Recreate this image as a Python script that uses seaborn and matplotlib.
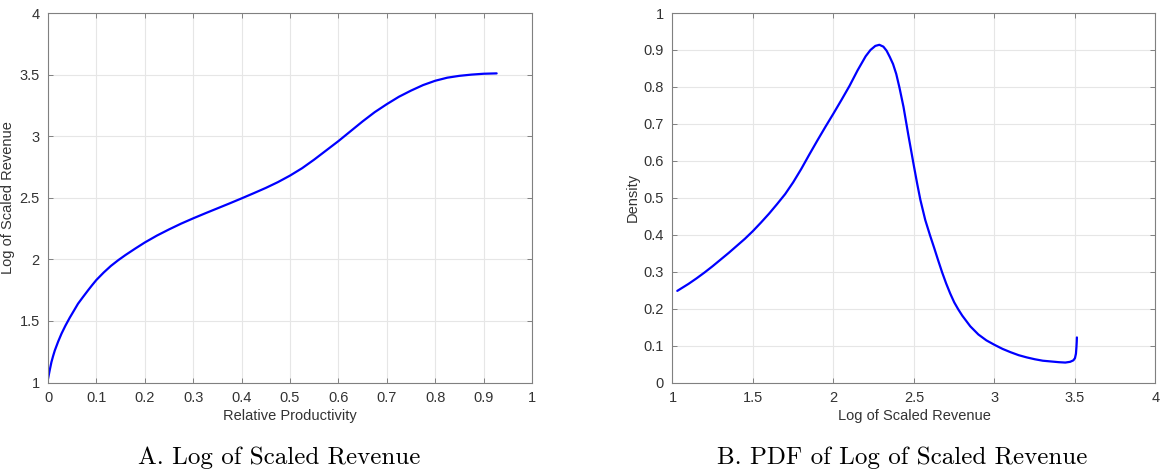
import matplotlib
matplotlib.use("Agg")
import matplotlib.pyplot as plt
import numpy as np
import pandas as pd
import seaborn as sns

# Panel A: log of scaled revenue vs relative productivity
prod_x = [0.0, 0.0035, 0.007, 0.0105, 0.014, 0.021, 0.028, 0.036, 0.045, 0.053,
          0.062, 0.072, 0.083, 0.091, 0.1, 0.115, 0.13, 0.145, 0.16, 0.18, 0.2,
          0.225, 0.25, 0.275, 0.3, 0.325, 0.35, 0.375, 0.4, 0.425, 0.45, 0.475,
          0.5, 0.525, 0.55, 0.575, 0.6, 0.625, 0.65, 0.675, 0.7, 0.725, 0.75,
          0.775, 0.8, 0.825, 0.85, 0.875, 0.9, 0.927]
rev_y = [1.03, 1.10, 1.165, 1.215, 1.26, 1.333, 1.398, 1.462, 1.527, 1.58,
         1.64, 1.693, 1.75, 1.79, 1.833, 1.893, 1.947, 1.993, 2.035, 2.087, 2.137,
         2.193, 2.243, 2.29, 2.333, 2.374, 2.414, 2.454, 2.495, 2.537, 2.58, 2.627,
         2.68, 2.74, 2.81, 2.885, 2.96, 3.04, 3.12, 3.195, 3.26, 3.32, 3.37,
         3.415, 3.45, 3.475, 3.49, 3.50, 3.507, 3.51]

# Panel B: PDF of log of scaled revenue
pdf_x = [1.03, 1.1, 1.15, 1.2, 1.25, 1.3, 1.35, 1.4, 1.45, 1.5, 1.55, 1.6, 1.65,
         1.7, 1.75, 1.8, 1.85, 1.9, 1.95, 2.0, 2.05, 2.1, 2.15, 2.2, 2.23, 2.26,
         2.285, 2.31, 2.33, 2.35, 2.37, 2.39, 2.41, 2.435, 2.465, 2.5, 2.52,
         2.54, 2.57, 2.6, 2.625, 2.65, 2.675, 2.7, 2.725, 2.75, 2.775, 2.8,
         2.85, 2.9, 2.95, 3.0, 3.05, 3.1, 3.15, 3.2, 3.25, 3.3, 3.35, 3.4, 3.44,
         3.47, 3.49, 3.5, 3.506, 3.509, 3.511, 3.512]
pdf_y = [0.248, 0.267, 0.282, 0.298, 0.315, 0.333, 0.351, 0.37, 0.389, 0.41,
         0.433, 0.457, 0.483, 0.51, 0.542, 0.578, 0.617, 0.655, 0.692, 0.728,
         0.765, 0.803, 0.845, 0.883, 0.90, 0.911, 0.914, 0.909, 0.898, 0.881,
         0.862, 0.835, 0.798, 0.746, 0.67, 0.585, 0.538, 0.494, 0.44, 0.398,
         0.365, 0.331, 0.298, 0.268, 0.241, 0.217, 0.198, 0.181, 0.152, 0.13,
         0.114, 0.102, 0.091, 0.082, 0.074, 0.068, 0.063, 0.059, 0.057, 0.055,
         0.054, 0.056, 0.06, 0.066, 0.078, 0.095, 0.11, 0.122]

xticks_a = [0, 0.1, 0.2, 0.3, 0.4, 0.5, 0.6, 0.7, 0.8, 0.9, 1]
xticklabels_a = ["0", "0.1", "0.2", "0.3", "0.4", "0.5", "0.6", "0.7", "0.8", "0.9", "1"]
yticks_a = [1, 1.5, 2, 2.5, 3, 3.5, 4]
yticklabels_a = ["1", "1.5", "2", "2.5", "3", "3.5", "4"]
xticks_b = [1, 1.5, 2, 2.5, 3, 3.5, 4]
xticklabels_b = ["1", "1.5", "2", "2.5", "3", "3.5", "4"]
yticks_b = [0, 0.1, 0.2, 0.3, 0.4, 0.5, 0.6, 0.7, 0.8, 0.9, 1]
yticklabels_b = ["0", "0.1", "0.2", "0.3", "0.4", "0.5", "0.6", "0.7", "0.8", "0.9", "1"]

sns.set_theme(style="whitegrid")
plt.rcParams["font.family"] = ["Liberation Sans", "DejaVu Sans"]

fig = plt.figure(figsize=(11.6, 4.72), dpi=100)
ax1 = fig.add_axes([0.0414, 0.1896, 0.4172, 0.7828])
ax2 = fig.add_axes([0.5797, 0.1896, 0.4164, 0.7828])

dfa = pd.DataFrame({"x": prod_x, "y": rev_y})
dfb = pd.DataFrame({"x": pdf_x, "y": pdf_y})
sns.lineplot(data=dfa, x="x", y="y", ax=ax1, color="#0000ff", linewidth=1.6,
             sort=False, estimator=None)
sns.lineplot(data=dfb, x="x", y="y", ax=ax2, color="#0000ff", linewidth=1.6,
             sort=False, estimator=None)

spine_col = "#808080"
text_col = "#333333"


def style(ax, xt, xtl, yt, ytl, xlim, ylim, xlabel, ylabel):
    ax.set_xlim(*xlim)
    ax.set_ylim(*ylim)
    ax.set_xticks(xt)
    ax.set_xticklabels(xtl)
    ax.set_yticks(yt)
    ax.set_yticklabels(ytl)
    ax.set_facecolor("white")
    ax.grid(True, color="#e6e6e6", linewidth=0.8)
    for s in ax.spines.values():
        s.set_visible(True)
        s.set_color(spine_col)
        s.set_linewidth(0.8)
    ax.tick_params(axis="both", which="both", direction="in", length=3.5,
                   width=0.7, color=spine_col, labelsize=10.5, labelcolor=text_col,
                   top=True, right=True, bottom=True, left=True)
    ax.tick_params(axis="x", pad=6)
    ax.tick_params(axis="y", pad=6)
    ax.set_xlabel(xlabel, fontsize=10.5, color=text_col, labelpad=3)
    ax.set_ylabel(ylabel, fontsize=10.5, color=text_col, labelpad=3)


style(ax1, xticks_a, xticklabels_a, yticks_a, yticklabels_a, (0, 1), (1, 4),
      "Relative Productivity", "Log of Scaled Revenue")
style(ax2, xticks_b, xticklabels_b, yticks_b, yticklabels_b, (1, 4), (0, 1),
      "Log of Scaled Revenue", "Density")

fig.text(0.2405, 0.016, "A. Log of Scaled Revenue", family="cmr10",
         fontsize=18, ha="center", va="baseline", color="black")
fig.text(0.778, 0.016, "B. PDF of Log of Scaled Revenue", family="cmr10",
         fontsize=18, ha="center", va="baseline", color="black")

fig.savefig("out.png", dpi=100)
